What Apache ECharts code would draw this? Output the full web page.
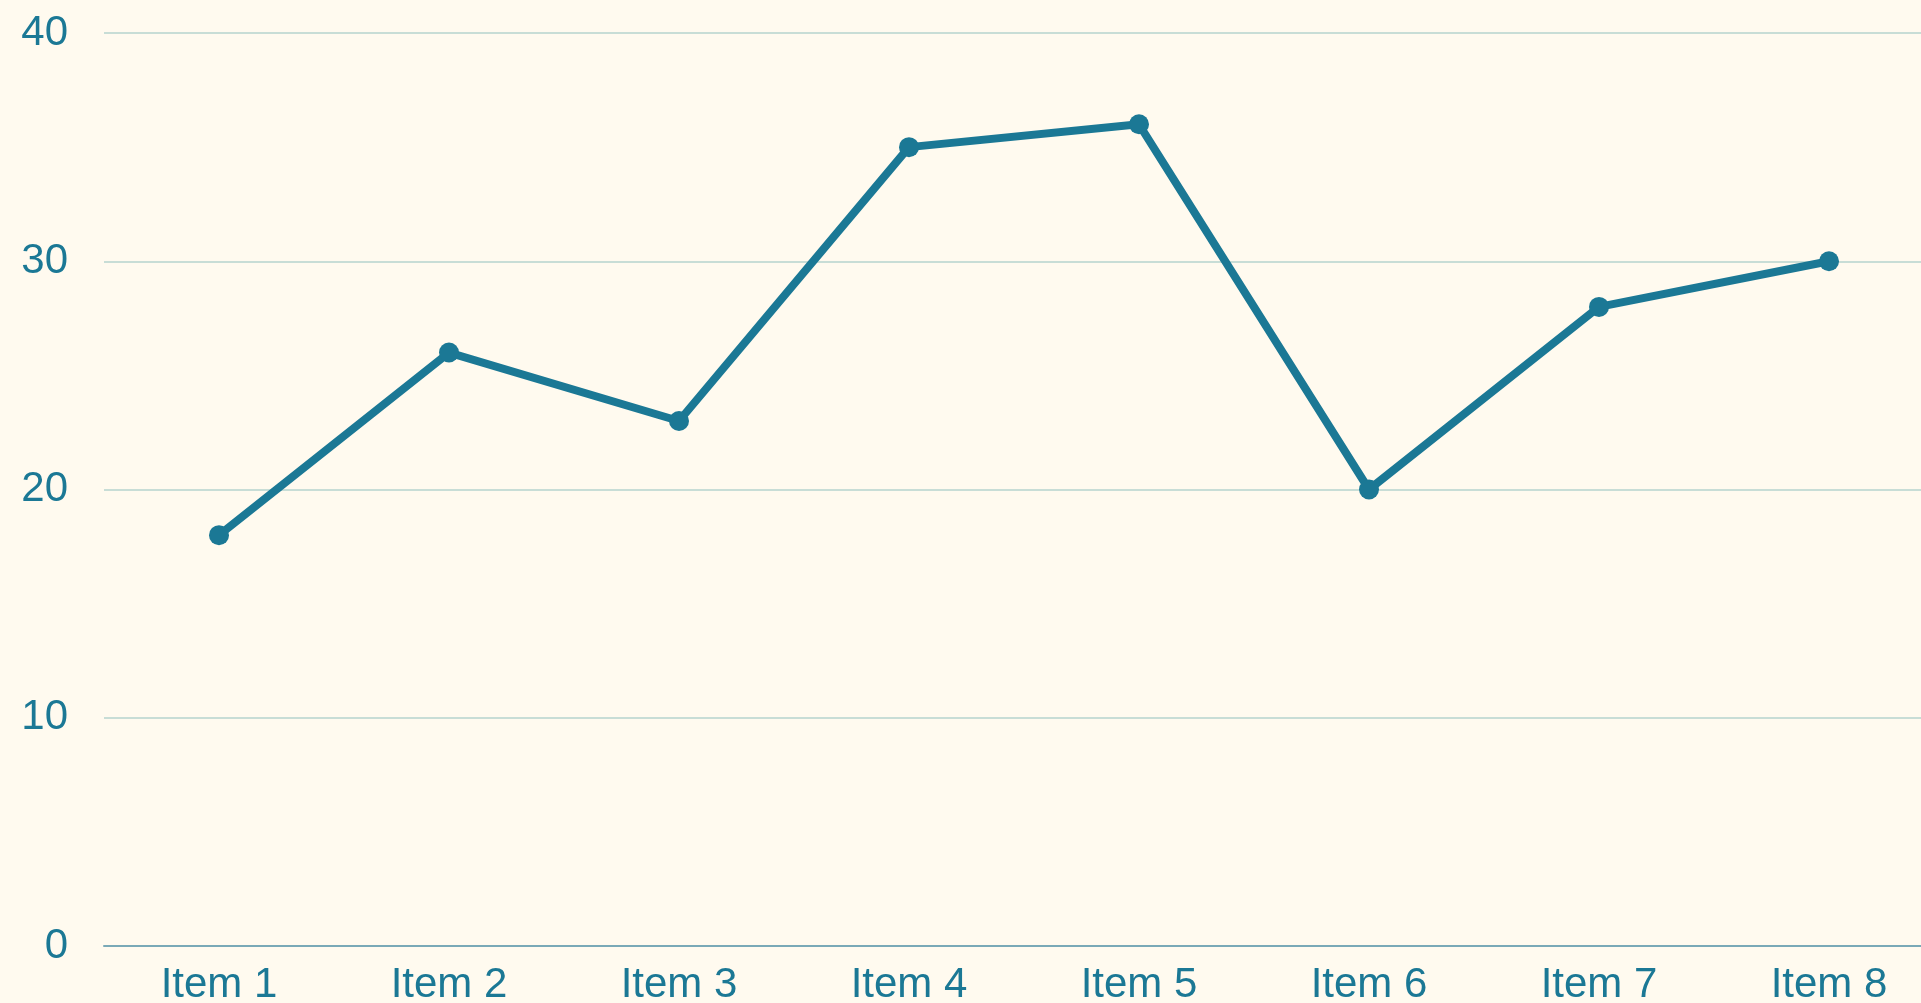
<!DOCTYPE html>
<html>
<head>
<meta charset="utf-8">
<script src="https://cdn.jsdelivr.net/npm/echarts@6/dist/echarts.min.js"></script>
<style>
  html, body { margin: 0; padding: 0; background: #fffaef; }
  #chart { width: 1921px; height: 1003px; }
</style>
</head>
<body>
<div id="chart"></div>
<script>
const categories = ['Item 1', 'Item 2', 'Item 3', 'Item 4', 'Item 5', 'Item 6', 'Item 7', 'Item 8']
const values = [18, 26, 23, 35, 36, 20, 28, 30]

const mainColor = '#1b7895'

const myChart = echarts.init(document.getElementById('chart'))

myChart.setOption({
  backgroundColor: '#fffaef',
  animation: false,
  grid: {
    left: 104,
    top: 33,
    width: 1840,
    bottom: 57,
    containLabel: false,
    outerBoundsMode: 'none'
  },
  xAxis: {
    type: 'category',
    data: categories,
    boundaryGap: true,
    axisLine: {
      lineStyle: { color: '#7aa9b7', width: 2 }
    },
    axisTick: { show: false },
    axisLabel: {
      color: mainColor,
      fontSize: 42,
      fontFamily: 'Liberation Sans',
      margin: 18
    }
  },
  yAxis: {
    type: 'value',
    min: 0,
    max: 40,
    interval: 10,
    axisLine: { show: false },
    axisTick: { show: false },
    splitLine: {
      lineStyle: { color: '#c8ddd6', width: 2 }
    },
    axisLabel: {
      color: mainColor,
      fontSize: 42,
      fontFamily: 'Liberation Sans',
      margin: 36
    }
  },
  series: [
    {
      type: 'line',
      data: values,
      symbol: 'circle',
      symbolSize: 20,
      lineStyle: { color: mainColor, width: 8 },
      itemStyle: { color: mainColor }
    }
  ]
})
</script>
</body>
</html>
